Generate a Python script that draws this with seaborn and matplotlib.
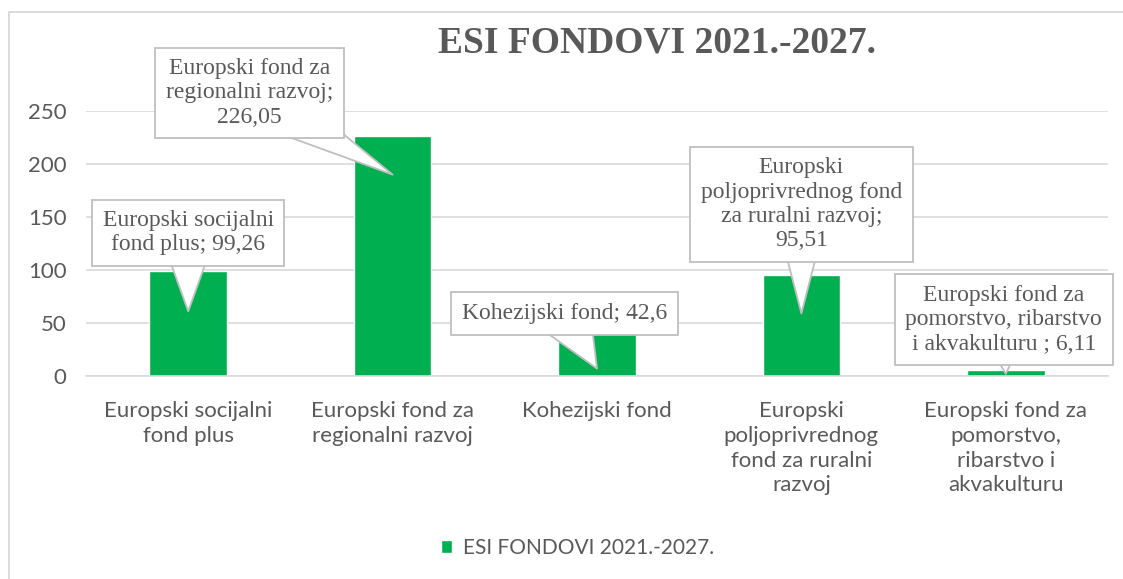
import numpy as np
import pandas as pd
import matplotlib
matplotlib.use('Agg')
import matplotlib.pyplot as plt
import seaborn as sns
from matplotlib.patches import Rectangle

# data
funds = ['Europski socijalni fond plus', 'Europski fond za regionalni razvoj',
         'Kohezijski fond', 'Europski poljoprivrednog fond za ruralni razvoj',
         'Europski fond za pomorstvo, ribarstvo i akvakulturu']
tick_labels = ['Europski socijalni\nfond plus', 'Europski fond za\nregionalni razvoj',
               'Kohezijski fond', 'Europski\npoljoprivrednog\nfond za ruralni\nrazvoj',
               'Europski fond za\npomorstvo,\nribarstvo i\nakvakulturu']
values = [99.26, 226.05, 42.6, 95.51, 6.11]
callout_texts = ['Europski socijalni\nfond plus; 99,26',
                 'Europski fond za\nregionalni razvoj;\n226,05',
                 'Kohezijski fond; 42,6',
                 'Europski\npoljoprivrednog fond\nza ruralni razvoj;\n95,51',
                 'Europski fond za\npomorstvo, ribarstvo\ni akvakulturu ; 6,11']
series_name = 'ESI FONDOVI 2021.-2027.'

# callout placement (tip height, box offset x, box centre y) in data units
tip_y = [61, 190, 7, 59, 2]
box_dx = [0.0, -0.70, -0.16, 0.0, -0.01]
box_y = [135, 267, 59, 162, 53]

GREEN = '#00B050'
GRAY = '#595959'
LIGHT = '#d9d9d9'

df = pd.DataFrame({'fond': funds, 'vrijednost': values})

sns.set_style('white')
plt.rcParams['font.family'] = ['Lato', 'DejaVu Sans']

fig = plt.figure(figsize=(11.23, 5.79), dpi=100)
ax = fig.add_axes([0.0766, 0.3506, 0.9100, 0.4577])

sns.barplot(data=df, x='fond', y='vrijednost', color=GREEN, saturation=1,
            width=0.38, ax=ax, label=series_name, zorder=2)

ax.set_ylim(0, 250)
ax.set_yticks([0, 50, 100, 150, 200, 250])
ax.set_xlim(-0.5, len(funds) - 0.5)
ax.grid(axis='y', color=LIGHT, linewidth=1.2, zorder=0)
ax.set_axisbelow(True)
for s in ['top', 'right', 'left']:
    ax.spines[s].set_visible(False)
ax.spines['bottom'].set_color(LIGHT)
ax.spines['bottom'].set_linewidth(1.2)
ax.set_xlabel('')
ax.set_ylabel('')
ax.set_xticks(range(len(funds)))
ax.set_xticklabels(tick_labels, fontsize=16, color=GRAY, linespacing=1.3,
                   va='top')
ax.tick_params(axis='x', length=0, pad=18)
ax.tick_params(axis='y', length=0, labelsize=16, labelcolor=GRAY, pad=14)

# category separators on x axis
ax.set_xticks(np.arange(-0.5, len(funds)), minor=True)
ax.tick_params(axis='x', which='minor', length=8, color=LIGHT, width=1.2)

# callouts
for i, txt in enumerate(callout_texts):
    ax.annotate(txt, xy=(i, tip_y[i]), xytext=(i + box_dx[i], box_y[i]),
                textcoords='data', ha='center', va='center',
                fontsize=17, color=GRAY, family='Liberation Serif',
                linespacing=1.2, zorder=5,
                bbox=dict(boxstyle='square,pad=0.45', fc='white', ec='#bfbfbf', lw=1.3),
                arrowprops=dict(arrowstyle='wedge,tail_width=2.4,shrink_factor=0.5',
                                fc='white', ec='#bfbfbf', lw=1.3, patchA=None,
                                shrinkA=0, shrinkB=0))

fig.text(0.585, 0.925, series_name, ha='center', va='center', fontsize=27,
         fontweight='bold', color=GRAY, family='Liberation Serif')

leg = ax.legend(loc='center', bbox_to_anchor=(0.514, 0.054),
                bbox_transform=fig.transFigure, frameon=False, fontsize=15,
                handlelength=0.55, handleheight=0.55, handletextpad=0.5)
for t in leg.get_texts():
    t.set_color(GRAY)

fig.patches.append(Rectangle((9 / 1123, -0.05), 1.1, 1 - 12 / 579 + 0.05,
                             transform=fig.transFigure, fill=False,
                             ec=LIGHT, lw=1.3))

fig.savefig('out.png', dpi=100)
